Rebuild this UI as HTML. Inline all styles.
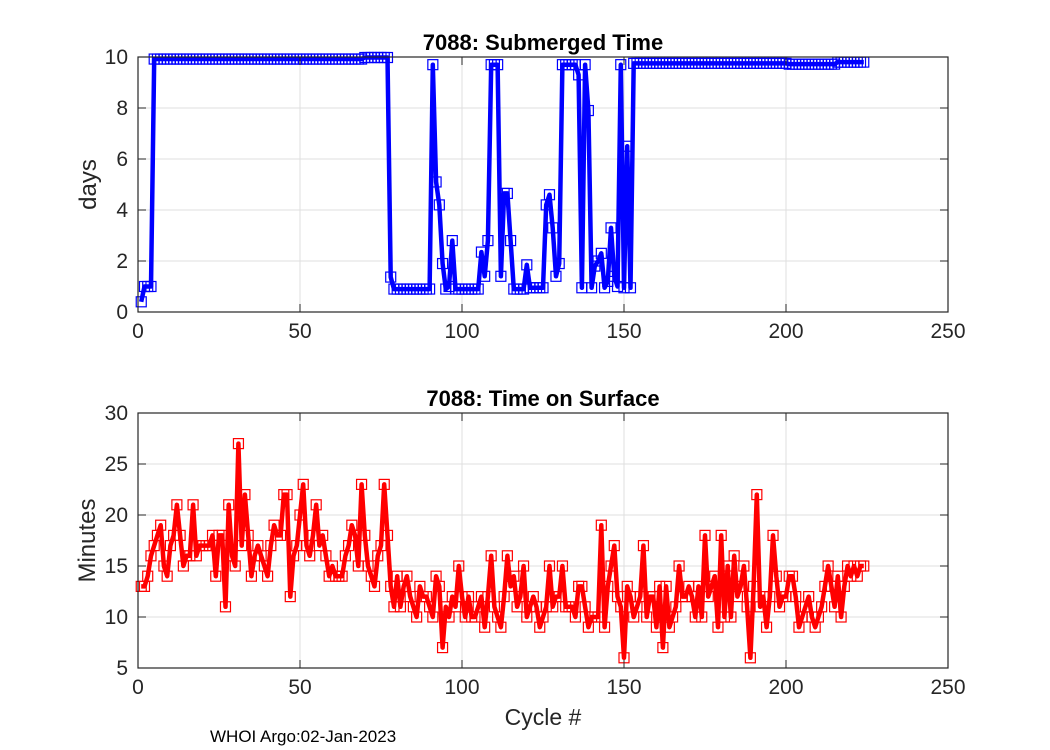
<!DOCTYPE html>
<html><head><meta charset="utf-8"><style>
body{margin:0;background:#fff;}
svg{display:block;font-family:"Liberation Sans",Arial,sans-serif;}
</style></head><body>
<svg id="fig" width="1050" height="750" viewBox="0 0 1050 750"></svg>
<script>
const cycles = [];
for (let i = 1; i <= 224; i++) cycles.push(i);
const submergedDays = [
0.4,1.0,1.0,1.0,9.92,9.92,9.92,9.92,9.92,9.92,
9.92,9.92,9.92,9.92,9.92,9.92,9.92,9.92,9.92,9.92,
9.92,9.92,9.92,9.92,9.92,9.92,9.92,9.92,9.92,9.92,
9.92,9.92,9.92,9.92,9.92,9.92,9.92,9.92,9.92,9.92,
9.92,9.92,9.92,9.92,9.92,9.92,9.92,9.92,9.92,9.92,
9.92,9.92,9.92,9.92,9.92,9.92,9.92,9.92,9.92,9.92,
9.92,9.92,9.92,9.92,9.92,9.92,9.92,9.92,9.92,9.98,
9.98,9.98,9.98,9.98,9.98,9.98,9.98,1.37,0.9,0.9,
0.9,0.9,0.9,0.9,0.9,0.9,0.9,0.9,0.9,0.9,
9.7,5.1,4.2,1.9,0.9,1.0,2.8,0.9,0.9,0.9,
0.9,0.9,0.9,0.9,0.9,2.35,1.4,2.8,9.7,9.7,
9.7,1.4,4.65,4.65,2.8,0.9,0.9,0.9,0.9,1.85,
0.95,0.95,0.95,0.95,0.95,4.2,4.6,3.3,1.4,1.9,
9.7,9.7,9.7,9.7,9.7,9.3,0.95,9.7,7.9,0.95,
1.8,2.0,2.3,0.95,1.2,3.3,1.4,1.0,9.7,0.95,
6.5,0.95,9.75,9.75,9.75,9.75,9.75,9.75,9.75,9.75,
9.75,9.75,9.75,9.75,9.75,9.75,9.75,9.75,9.75,9.75,
9.75,9.75,9.75,9.75,9.75,9.75,9.75,9.75,9.75,9.75,
9.75,9.75,9.75,9.75,9.75,9.75,9.75,9.75,9.75,9.75,
9.75,9.75,9.75,9.75,9.75,9.75,9.75,9.75,9.75,9.75,
9.72,9.72,9.72,9.72,9.72,9.72,9.72,9.72,9.72,9.72,
9.72,9.72,9.72,9.72,9.72,9.8,9.8,9.8,9.8,9.8,
9.8,9.8,9.8,9.8];
const surfaceMinutes = [13,13,14,16,17,18,19,15,14,17, 18,21,18,15,16,16,21,16,17,17, 17,17,18,14,18,18,11,21,16,15, 27,17,22,18,14,16,17,16,15,14, 17,19,18,18,22,22,12,16,17,20, 23,17,16,18,21,17,18,16,14,15, 14,14,14,16,17,19,18,15,23,18, 15,14,13,16,17,23,18,13,11,14, 11,
13,14,12,11,10,13,12,12,11,10,14,13,7,11,10,12,11,15,12,10,12,10,10,11,12,9,12,16,11,10,9,12,16,13,14,11,12,15,10,11,12,11,9,10,11,15,11,12,12,15,11,11,11,10,13,13,11,9,10,10,10,19,9,13,15,17,12,11,6,13,12,10,11,12,17,10,
12,12,9,13,7,13,9,10,11,15,12,12,13,12,10,13,10,18,12,13,14,9,18,10,15,10,16,12,13,15,11,6,13,22,11,12,9,12,18,14,11,12,12,14,14,12,9,10,11,12,10,9,10,11,13,15,13,11,14,10,13,15,14,15,14,15,15];
const xTicks = [0,50,100,150,200,250];
const yTicksTop = [0,2,4,6,8,10];
const yTicksBot = [5,10,15,20,25,30];

const NS = "http://www.w3.org/2000/svg";
const svg = document.getElementById('fig');
function mk(tag, attrs, parent){const e=document.createElementNS(NS,tag);for(const k in attrs)e.setAttribute(k,attrs[k]);(parent||svg).appendChild(e);return e;}

function panel(cfg){
  const L=138,R=948,T=cfg.top,B=cfg.top+255;
  const xs=v=>L+(v-0)/250*(R-L);
  const ys=v=>B-(v-cfg.ymin)/(cfg.ymax-cfg.ymin)*(B-T);
  const n=Math.min(cycles.length,cfg.data.length);
  const g=mk('g',{});
  
  
  mk('rect',{x:L,y:T,width:R-L,height:B-T,fill:'#fff'},g);
  xTicks.forEach(t=>{
    const l=mk('line',{x1:xs(t),x2:xs(t),y1:T,y2:B,stroke:'#dfdfdf','stroke-width':1},g);
    
    
  });
  cfg.yticks.forEach(t=>{
    const l=mk('line',{x1:L,x2:R,y1:ys(t),y2:ys(t),stroke:'#dfdfdf','stroke-width':1},g);
    
    
  });
  const pts=[];
  for(let i=0;i<n;i++) pts.push(xs(cycles[i]).toFixed(1)+','+ys(cfg.data[i]).toFixed(1));
  const line=mk('polyline',{points:pts.join(' '),fill:'none',stroke:cfg.color,'stroke-width':4.5,'stroke-linejoin':'round'},g);
  
  
  for(let i=0;i<n;i++){
    const m=mk('rect',{x:xs(cycles[i])-5,y:ys(cfg.data[i])-5,width:10,height:10,fill:'none',stroke:cfg.color,'stroke-width':1.2},g);
    
    
  }
  mk('rect',{x:L,y:T,width:R-L,height:B-T,fill:'none',stroke:'#262626','stroke-width':1.2},g);
  xTicks.forEach(t=>{
    mk('line',{x1:xs(t),x2:xs(t),y1:B,y2:B-8,stroke:'#262626','stroke-width':1},g);
    mk('line',{x1:xs(t),x2:xs(t),y1:T,y2:T+8,stroke:'#262626','stroke-width':1},g);
    const tx=mk('text',{x:xs(t),y:B+26,'font-size':21,'text-anchor':'middle',fill:'#262626'},g);
    tx.textContent=t;
    
    
  });
  cfg.yticks.forEach(t=>{
    mk('line',{x1:L,x2:L+8,y1:ys(t),y2:ys(t),stroke:'#262626','stroke-width':1},g);
    mk('line',{x1:R,x2:R-8,y1:ys(t),y2:ys(t),stroke:'#262626','stroke-width':1},g);
    const tx=mk('text',{x:L-10,y:ys(t)+7,'font-size':21,'text-anchor':'end',fill:'#262626'},g);
    tx.textContent=t;
    
    
  });
  const ti=mk('text',{x:543,y:T-7,'font-size':22,'font-weight':'bold','text-anchor':'middle',fill:'#000'},g);
  ti.textContent=cfg.title;
  
  
  const yl=mk('text',{x:0,y:0,'font-size':24,'text-anchor':'middle',fill:'#262626',transform:`translate(${cfg.ylx},${(T+B)/2}) rotate(-90)`},g);
  yl.textContent=cfg.ylabel;
  
  
}
panel({name:'submerged-time-panel',seriesName:'submerged-time-line',top:57,ymin:0,ymax:10,yticks:yTicksTop,data:submergedDays,color:'#0000ff',title:'7088: Submerged Time',ylabel:'days',ylx:96});
panel({name:'surface-time-panel',seriesName:'surface-time-line',top:413,ymin:5,ymax:30,yticks:yTicksBot,data:surfaceMinutes,color:'#ff0000',title:'7088: Time on Surface',ylabel:'Minutes',ylx:95});
const xl=mk('text',{x:543,y:725,'font-size':23,'text-anchor':'middle',fill:'#262626'});
xl.textContent='Cycle #';


const ft=mk('text',{x:210,y:742,'font-size':17,fill:'#000'});
ft.textContent='WHOI Argo:02-Jan-2023';


</script>
</body></html>
